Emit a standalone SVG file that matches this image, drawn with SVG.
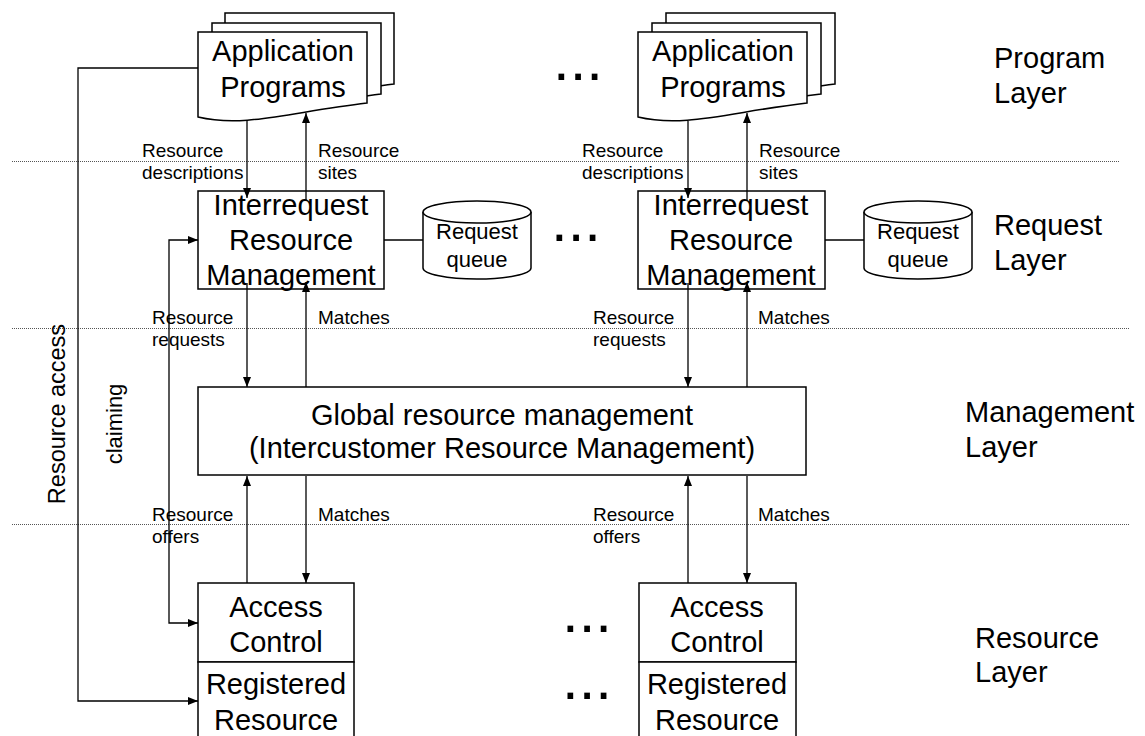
<svg xmlns="http://www.w3.org/2000/svg" width="1145" height="736" viewBox="0 0 1145 736">
  <style>
    text { font-family: "Liberation Sans", Arial, sans-serif; fill: #000; }
    .big { font-size: 29px; text-anchor: middle; }
    .layer { font-size: 29px; }
    .mid { font-size: 22px; text-anchor: middle; }
    .small { font-size: 19px; }
    .dots { font-size: 60px; }
    .box { fill: #fff; stroke: #000; stroke-width: 1.5; }
    .frame { fill: none; stroke: #000; stroke-width: 1.5; }
    .page { fill: #fff; stroke: #000; stroke-width: 1.5; }
    .wire { fill: none; stroke: #000; stroke-width: 1.3; }
    .sep { fill: none; stroke: #555; stroke-width: 1; stroke-dasharray: 1 1; }
  </style>
  <defs>
    <marker id="arrow" markerUnits="userSpaceOnUse" markerWidth="11" markerHeight="9" refX="10" refY="4" orient="auto">
      <path d="M0,0 L10,4 L0,8 Z" fill="#000"/>
    </marker>
    <marker id="arrow-start" markerUnits="userSpaceOnUse" markerWidth="11" markerHeight="9" refX="0" refY="4" orient="auto">
      <path d="M10,0 L0,4 L10,8 Z" fill="#000"/>
    </marker>
    <path id="doc" d="M0,0 H169 V71 C92,80 47,96 0,85 Z"/>
  </defs>

  <!-- layer separators -->
  <g id="separators">
    <line class="sep" x1="12" y1="161.5" x2="1120" y2="161.5"/>
    <line class="sep" x1="12" y1="328.5" x2="1130" y2="328.5"/>
    <line class="sep" x1="12" y1="524.5" x2="1130" y2="524.5"/>
  </g>

  <!-- connectors -->
  <g id="connectors">
    <!-- left column -->
    <line class="wire" x1="247" y1="121" x2="247" y2="198" marker-end="url(#arrow)"/>
    <line class="wire" x1="306" y1="200" x2="306" y2="113" marker-end="url(#arrow)"/>
    <line class="wire" x1="247" y1="283" x2="247" y2="387" marker-end="url(#arrow)"/>
    <line class="wire" x1="306" y1="387" x2="306" y2="282" marker-end="url(#arrow)"/>
    <line class="wire" x1="247" y1="583" x2="247" y2="476" marker-end="url(#arrow)"/>
    <line class="wire" x1="306" y1="476" x2="306" y2="583" marker-end="url(#arrow)"/>
    <line class="wire" x1="384" y1="240" x2="423" y2="240"/>
    <polyline class="wire" points="198,68 78,68 78,701 198,701" marker-end="url(#arrow)"/>
    <polyline class="wire" points="198,240 169,240 169,623 198,623" marker-start="url(#arrow-start)" marker-end="url(#arrow)"/>
    <!-- right column -->
    <line class="wire" x1="688" y1="121" x2="688" y2="198" marker-end="url(#arrow)"/>
    <line class="wire" x1="747" y1="200" x2="747" y2="113" marker-end="url(#arrow)"/>
    <line class="wire" x1="688" y1="283" x2="688" y2="387" marker-end="url(#arrow)"/>
    <line class="wire" x1="747" y1="387" x2="747" y2="282" marker-end="url(#arrow)"/>
    <line class="wire" x1="688" y1="583" x2="688" y2="476" marker-end="url(#arrow)"/>
    <line class="wire" x1="747" y1="476" x2="747" y2="583" marker-end="url(#arrow)"/>
    <line class="wire" x1="825" y1="240" x2="864" y2="240"/>
  </g>

  <!-- connector labels -->
  <g id="labels">
    <text class="small" x="142" y="157">Resource</text>
    <text class="small" x="142" y="179">descriptions</text>
    <text class="small" x="318" y="157">Resource</text>
    <text class="small" x="318" y="179">sites</text>
    <text class="small" x="582" y="157">Resource</text>
    <text class="small" x="582" y="179">descriptions</text>
    <text class="small" x="759" y="157">Resource</text>
    <text class="small" x="759" y="179">sites</text>

    <text class="small" x="152" y="324">Resource</text>
    <text class="small" x="152" y="346">requests</text>
    <text class="small" x="318" y="324">Matches</text>
    <text class="small" x="593" y="324">Resource</text>
    <text class="small" x="593" y="346">requests</text>
    <text class="small" x="758" y="324">Matches</text>

    <text class="small" x="152" y="521">Resource</text>
    <text class="small" x="152" y="543">offers</text>
    <text class="small" x="318" y="521">Matches</text>
    <text class="small" x="593" y="521">Resource</text>
    <text class="small" x="593" y="543">offers</text>
    <text class="small" x="758" y="521">Matches</text>

    <text class="mid" style="font-size:23.5px" transform="translate(65,414) rotate(-90)">Resource access</text>
    <text class="mid" transform="translate(122,424) rotate(-90)">claiming</text>
  </g>

  <!-- application programs (left) -->
  <g id="app-left">
    <use href="#doc" class="page" x="225" y="13"/>
    <use href="#doc" class="page" x="212" y="23"/>
    <use href="#doc" class="page" x="198" y="32"/>
    <text class="big" x="283" y="61">Application</text>
    <text class="big" x="283" y="97">Programs</text>
  </g>

  <!-- application programs (right) -->
  <g id="app-right">
    <use href="#doc" class="page" x="666" y="13"/>
    <use href="#doc" class="page" x="652" y="23"/>
    <use href="#doc" class="page" x="638" y="32"/>
    <text class="big" x="723" y="61">Application</text>
    <text class="big" x="723" y="97">Programs</text>
  </g>

  <!-- interrequest resource management (left) -->
  <g id="irm-left">
    <rect class="frame" x="198" y="191" width="186" height="98"/>
    <text class="big" x="291" y="215">Interrequest</text>
    <text class="big" x="291" y="250">Resource</text>
    <text class="big" x="291" y="285">Management</text>
  </g>

  <!-- interrequest resource management (right) -->
  <g id="irm-right">
    <rect class="frame" x="638" y="191" width="187" height="98"/>
    <text class="big" x="731" y="215">Interrequest</text>
    <text class="big" x="731" y="250">Resource</text>
    <text class="big" x="731" y="285">Management</text>
  </g>

  <!-- request queues -->
  <g id="queue-left">
    <path class="box" d="M423,212 V268 A54,11 0 0 0 531,268 V212"/>
    <ellipse class="box" cx="477" cy="212" rx="54" ry="11"/>
    <text class="mid" x="477" y="239">Request</text>
    <text class="mid" x="477" y="267">queue</text>
  </g>
  <g id="queue-right">
    <path class="box" d="M864,212 V268 A54,11 0 0 0 972,268 V212"/>
    <ellipse class="box" cx="918" cy="212" rx="54" ry="11"/>
    <text class="mid" x="918" y="239">Request</text>
    <text class="mid" x="918" y="267">queue</text>
  </g>

  <!-- global resource management -->
  <g id="global">
    <rect class="box" x="198" y="387" width="608" height="88"/>
    <text class="big" x="502" y="425">Global resource management</text>
    <text class="big" x="502" y="458">(Intercustomer Resource Management)</text>
  </g>

  <!-- access control / registered resource (left) -->
  <g id="resource-left">
    <rect class="box" x="198" y="583" width="156" height="79"/>
    <rect class="box" x="198" y="662" width="156" height="80"/>
    <text class="big" x="276" y="617">Access</text>
    <text class="big" x="276" y="652">Control</text>
    <text class="big" x="276" y="694">Registered</text>
    <text class="big" x="276" y="730">Resource</text>
  </g>

  <!-- access control / registered resource (right) -->
  <g id="resource-right">
    <rect class="box" x="639" y="583" width="157" height="79"/>
    <rect class="box" x="639" y="662" width="157" height="80"/>
    <text class="big" x="717" y="617">Access</text>
    <text class="big" x="717" y="652">Control</text>
    <text class="big" x="717" y="694">Registered</text>
    <text class="big" x="717" y="730">Resource</text>
  </g>

  <!-- ellipses between repeated columns -->
  <g id="ellipses">
    <text class="dots" x="553" y="80">...</text>
    <text class="dots" x="551" y="241">...</text>
    <text class="dots" x="562" y="632">...</text>
    <text class="dots" x="562" y="699">...</text>
  </g>

  <!-- layer names -->
  <g id="layer-names">
    <text class="layer" x="994" y="68">Program</text>
    <text class="layer" x="994" y="103">Layer</text>
    <text class="layer" x="994" y="235">Request</text>
    <text class="layer" x="994" y="270">Layer</text>
    <text class="layer" x="965" y="422">Management</text>
    <text class="layer" x="965" y="457">Layer</text>
    <text class="layer" x="975" y="648">Resource</text>
    <text class="layer" x="975" y="682">Layer</text>
  </g>
</svg>
